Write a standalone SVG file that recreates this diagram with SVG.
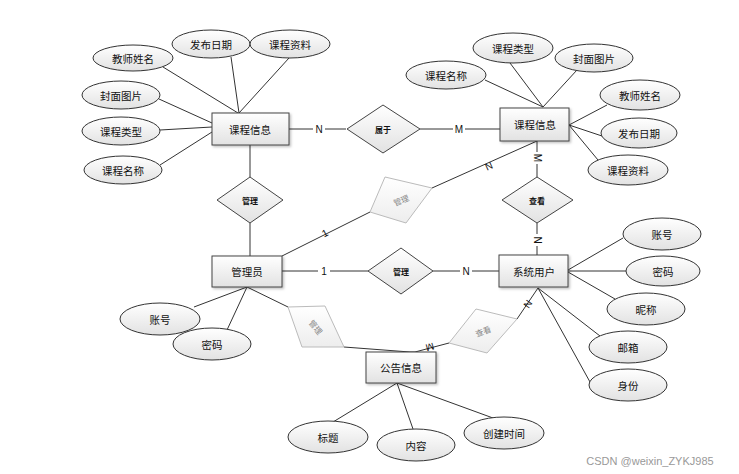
<svg xmlns="http://www.w3.org/2000/svg" width="739" height="474" viewBox="0 0 739 474">
<defs>
<linearGradient id="g" x1="0" y1="0" x2="0" y2="1"><stop offset="0" stop-color="#ffffff"/><stop offset="1" stop-color="#e2e2e2"/></linearGradient>
<linearGradient id="gl" x1="0" y1="0" x2="0" y2="1"><stop offset="0" stop-color="#ffffff"/><stop offset="1" stop-color="#ededed"/></linearGradient>
<filter id="sh" x="-20%" y="-20%" width="140%" height="150%"><feDropShadow dx="1.5" dy="1.5" stdDeviation="1" flood-color="#000" flood-opacity="0.25"/></filter>
</defs>
<style>
text{font-family:"Noto Sans CJK SC","Liberation Sans",sans-serif;fill:#111;text-anchor:middle;dominant-baseline:central}
.t{font-size:10.5px}
.d{font-size:8px;font-weight:bold}
.dg{font-size:8px;fill:#888}
.c{font-size:10px;font-family:"Liberation Sans",sans-serif}
.ent rect{fill:url(#g);stroke:#444;stroke-width:1;filter:url(#sh)}
.att ellipse{fill:url(#g);stroke:#333;stroke-width:1}
.rel polygon{fill:url(#g);stroke:#444;stroke-width:1}
.relg polygon{fill:url(#gl);stroke:#bbb;stroke-width:1}
#conn line,#conn polyline{stroke:#333;stroke-width:1;fill:none}
</style>
<rect width="739" height="474" fill="#fff"/>
<g id="conn">
<line x1="163" y1="67" x2="238" y2="113"/>
<line x1="231" y1="57" x2="239" y2="113"/>
<line x1="289" y1="58" x2="239" y2="113"/>
<line x1="159" y1="99" x2="212" y2="123"/>
<line x1="160" y1="130" x2="212" y2="127"/>
<line x1="160" y1="165" x2="212" y2="132"/>
<line x1="289" y1="129" x2="346" y2="129"/>
<line x1="420" y1="129" x2="500" y2="129"/>
<line x1="485" y1="80" x2="543" y2="107"/>
<line x1="510" y1="63" x2="543" y2="107"/>
<line x1="577" y1="70" x2="543" y2="107"/>
<line x1="607" y1="105" x2="569" y2="125"/>
<line x1="602" y1="136" x2="569" y2="125"/>
<line x1="598" y1="160" x2="569" y2="125"/>
<line x1="537" y1="141" x2="537" y2="177"/>
<line x1="537" y1="223" x2="537" y2="255"/>
<line x1="250" y1="145" x2="250" y2="177"/>
<line x1="250" y1="223" x2="250" y2="256"/>
<line x1="282" y1="256" x2="370" y2="212"/>
<line x1="432" y1="188" x2="537" y2="141"/>
<line x1="282" y1="271" x2="368" y2="271"/>
<line x1="433" y1="271" x2="499" y2="271"/>
<line x1="247" y1="287" x2="194" y2="307"/>
<line x1="247" y1="287" x2="227" y2="330"/>
<line x1="247" y1="287" x2="288" y2="307"/>
<polyline points="344,347 410,352 415,352 449,343"/>
<line x1="517" y1="319" x2="538" y2="288"/>
<line x1="568" y1="270" x2="623" y2="238"/>
<line x1="568" y1="271" x2="626" y2="271"/>
<line x1="568" y1="272" x2="615" y2="299"/>
<line x1="538" y1="288" x2="600" y2="336"/>
<line x1="538" y1="288" x2="590" y2="382"/>
<line x1="397" y1="383" x2="333" y2="422"/>
<line x1="397" y1="383" x2="413" y2="429"/>
<line x1="397" y1="383" x2="493" y2="418"/>
</g>
<g id="cardinalities">
<rect x="313" y="123" width="12" height="12" fill="#fff"/><text class="c" x="319" y="129">N</text>
<rect x="453" y="123" width="12" height="12" fill="#fff"/><text class="c" x="459" y="129">M</text>
<rect x="531" y="152" width="12" height="12" fill="#fff"/><text class="c" x="537" y="158" transform="rotate(90 537 158)">M</text>
<rect x="531" y="234" width="12" height="12" fill="#fff"/><text class="c" x="537" y="240" transform="rotate(90 537 240)">N</text>
<text class="c" x="489" y="166" transform="rotate(-24 489 166)">N</text>
<text class="c" x="325" y="233" transform="rotate(-27 325 233)">1</text>
<rect x="318" y="265" width="12" height="12" fill="#fff"/><text class="c" x="324" y="271">1</text>
<rect x="460" y="265" width="12" height="12" fill="#fff"/><text class="c" x="466" y="271">N</text>
<text class="c" x="430" y="347" transform="rotate(165 430 347)">M</text>
<text class="c" x="528" y="304" transform="rotate(-56 528 304)">N</text>
</g>
<g id="e_course_left" class="ent"><rect x="212" y="113" width="77" height="32"/><text class="t" x="250" y="129">课程信息</text></g>
<g id="e_course_right" class="ent"><rect x="500" y="108" width="69" height="33"/><text class="t" x="535" y="124">课程信息</text></g>
<g id="e_admin" class="ent"><rect x="212" y="256" width="70" height="31"/><text class="t" x="247" y="271">管理员</text></g>
<g id="e_user" class="ent"><rect x="499" y="255" width="69" height="32"/><text class="t" x="534" y="271">系统用户</text></g>
<g id="e_notice" class="ent"><rect x="366" y="352" width="70" height="31"/><text class="t" x="401" y="367">公告信息</text></g>
<g id="a_l_teacher" class="att"><ellipse cx="133" cy="58" rx="40" ry="13"/><text class="t" x="133" y="58">教师姓名</text></g>
<g id="a_l_date" class="att"><ellipse cx="211" cy="44" rx="39" ry="14"/><text class="t" x="211" y="44">发布日期</text></g>
<g id="a_l_material" class="att"><ellipse cx="290" cy="44" rx="40" ry="14"/><text class="t" x="290" y="44">课程资料</text></g>
<g id="a_l_cover" class="att"><ellipse cx="121" cy="95" rx="39" ry="14"/><text class="t" x="121" y="95">封面图片</text></g>
<g id="a_l_type" class="att"><ellipse cx="121" cy="131" rx="39" ry="14"/><text class="t" x="121" y="131">课程类型</text></g>
<g id="a_l_name" class="att"><ellipse cx="123" cy="170" rx="39" ry="14"/><text class="t" x="123" y="170">课程名称</text></g>
<g id="a_r_type" class="att"><ellipse cx="513" cy="48" rx="40" ry="15"/><text class="t" x="513" y="48">课程类型</text></g>
<g id="a_r_cover" class="att"><ellipse cx="594" cy="58" rx="39" ry="14"/><text class="t" x="594" y="58">封面图片</text></g>
<g id="a_r_name" class="att"><ellipse cx="446" cy="75" rx="40" ry="14"/><text class="t" x="446" y="75">课程名称</text></g>
<g id="a_r_teacher" class="att"><ellipse cx="640" cy="95" rx="40" ry="15"/><text class="t" x="640" y="95">教师姓名</text></g>
<g id="a_r_date" class="att"><ellipse cx="639" cy="133" rx="38" ry="15"/><text class="t" x="639" y="133">发布日期</text></g>
<g id="a_r_material" class="att"><ellipse cx="628" cy="170" rx="40" ry="15"/><text class="t" x="628" y="170">课程资料</text></g>
<g id="a_admin_acc" class="att"><ellipse cx="160" cy="319" rx="40" ry="16"/><text class="t" x="160" y="319">账号</text></g>
<g id="a_admin_pwd" class="att"><ellipse cx="212" cy="344" rx="39" ry="16"/><text class="t" x="212" y="344">密码</text></g>
<g id="a_user_acc" class="att"><ellipse cx="662" cy="234" rx="39" ry="16"/><text class="t" x="662" y="234">账号</text></g>
<g id="a_user_pwd" class="att"><ellipse cx="663" cy="271" rx="37" ry="15"/><text class="t" x="663" y="271">密码</text></g>
<g id="a_user_nick" class="att"><ellipse cx="646" cy="309" rx="39" ry="16"/><text class="t" x="646" y="309">昵称</text></g>
<g id="a_user_mail" class="att"><ellipse cx="628" cy="347" rx="39" ry="16"/><text class="t" x="628" y="347">邮箱</text></g>
<g id="a_user_role" class="att"><ellipse cx="628" cy="385" rx="39" ry="16"/><text class="t" x="628" y="385">身份</text></g>
<g id="a_n_title" class="att"><ellipse cx="328" cy="437" rx="40" ry="16"/><text class="t" x="328" y="437">标题</text></g>
<g id="a_n_content" class="att"><ellipse cx="416" cy="445" rx="39" ry="16"/><text class="t" x="416" y="445">内容</text></g>
<g id="a_n_time" class="att"><ellipse cx="504" cy="433" rx="40" ry="16"/><text class="t" x="504" y="433">创建时间</text></g>
<g id="r_belong" class="rel"><polygon points="347,129 383,105 420,129 383,153"/><text class="d" x="383" y="129">属于</text></g>
<g id="r_manage_course" class="rel"><polygon points="217,200 250,177 283,200 250,223"/><text class="d" x="250" y="200">管理</text></g>
<g id="r_view_course" class="rel"><polygon points="502,200 537,177 573,200 537,223"/><text class="d" x="537" y="200">查看</text></g>
<g id="r_manage_user" class="rel"><polygon points="368,271 401,248 433,271 401,294"/><text class="d" x="401" y="271">管理</text></g>
<g id="r_manage_course2" class="relg"><polygon points="370,212 385,177 432,188 406,223"/><text class="dg" x="401" y="200" transform="rotate(-22 401 200)">管理</text></g>
<g id="r_manage_notice" class="relg"><polygon points="288,307 325,306 344,347 302,347"/><text class="dg" x="316" y="327" transform="rotate(50 316 327)">管理</text></g>
<g id="r_view_notice" class="relg"><polygon points="449,343 476,309 517,319 487,353"/><text class="dg" x="483" y="331" transform="rotate(-20 483 331)">查看</text></g>
<text x="650" y="461" style="font-size:11px;fill:#999;font-family:'Liberation Sans',sans-serif">CSDN @weixin_ZYKJ985</text>
</svg>
